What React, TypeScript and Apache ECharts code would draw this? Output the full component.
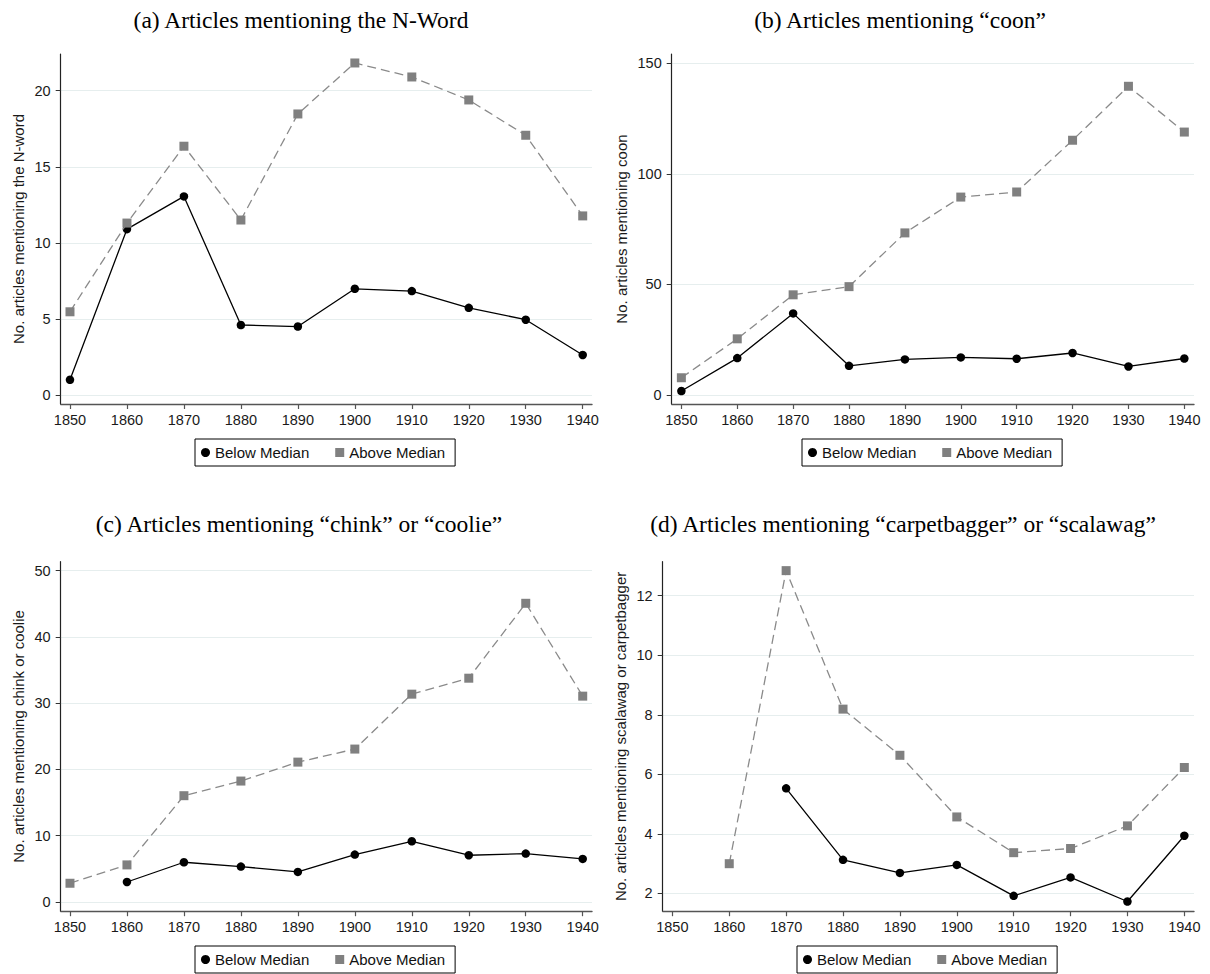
import React, { useEffect, useRef } from "react";
import * as echarts from "echarts";

// ---------- data ----------
const years = [1850, 1860, 1870, 1880, 1890, 1900, 1910, 1920, 1930, 1940];

const nwordBelow = [1.0, 10.9, 13.05, 4.6, 4.5, 6.98, 6.83, 5.73, 4.95, 2.63];
const nwordAbove = [5.47, 11.3, 16.35, 11.5, 18.47, 21.82, 20.9, 19.39, 17.07, 11.77];

const coonBelow = [1.8, 16.7, 36.9, 13.2, 16.1, 17.0, 16.4, 19.0, 12.9, 16.5];
const coonAbove = [7.8, 25.4, 45.3, 49.0, 73.3, 89.5, 91.8, 115.2, 139.6, 118.9];

const chinkBelow = [null, 3.0, 5.98, 5.33, 4.52, 7.14, 9.15, 7.04, 7.29, 6.48];
const chinkAbove = [2.81, 5.58, 16.03, 18.24, 21.1, 23.07, 31.36, 33.77, 45.08, 31.06];

const carpetBelow = [null, null, 5.53, 3.13, 2.69, 2.96, 1.92, 2.54, 1.73, 3.94];
const carpetAbove = [null, 3.0, 12.84, 8.19, 6.64, 4.57, 3.37, 3.51, 4.27, 6.23];

const yTicksA = [0, 5, 10, 15, 20];
const yTicksB = [0, 50, 100, 150];
const yTicksC = [0, 10, 20, 30, 40, 50];
const yTicksD = [2, 4, 6, 8, 10, 12];

const titles = [
  "(a) Articles mentioning the N-Word",
  "(b) Articles mentioning \u201Ccoon\u201D",
  "(c) Articles mentioning \u201Cchink\u201D or \u201Ccoolie\u201D",
  "(d) Articles mentioning \u201Ccarpetbagger\u201D or \u201Cscalawag\u201D",
];
const yNames = [
  "No. articles mentioning the N-word",
  "No. articles mentioning coon",
  "No. articles mentioning chink or coolie",
  "No. articles mentioning scalawag or carpetbagger",
];
const seriesNames = ["Below Median", "Above Median"];

// ---------- layout ----------
const panels = [
  { below: nwordBelow, above: nwordAbove, ticks: yTicksA, ymin: -0.59, ymax: 22.41, xmin: 1848.37, xmax: 1941.63,
    grid: { left: 60.7, top: 54, width: 531.3, height: 350 }, nameGap: 35,
    title: { x: 301, y: 19.5 }, legend: { left: 195, top: 439 } },
  { below: coonBelow, above: coonAbove, ticks: yTicksB, ymin: -4.07, ymax: 154.2, xmin: 1848.27, xmax: 1941.73,
    grid: { left: 671.7, top: 54, width: 522.3, height: 350 }, nameGap: 43,
    title: { x: 900, y: 19.5 }, legend: { left: 802, top: 439 } },
  { below: chinkBelow, above: chinkAbove, ticks: yTicksC, ymin: -1.41, ymax: 51.36, xmin: 1848.37, xmax: 1941.63,
    grid: { left: 60.7, top: 561.7, width: 531.3, height: 349.5 }, nameGap: 35,
    title: { x: 299, y: 523.5 }, legend: { left: 195, top: 946 } },
  { below: carpetBelow, above: carpetAbove, ticks: yTicksD, ymin: 1.405, ymax: 13.14, xmin: 1848.3, xmax: 1941.7,
    grid: { left: 662.7, top: 561.7, width: 531.3, height: 349.5 }, nameGap: 35,
    title: { x: 903, y: 523.5 }, legend: { left: 797, top: 946 } },
];

const SANS = '"Liberation Sans", Arial, Helvetica, sans-serif';
const SERIF = '"Liberation Serif", "Times New Roman", Times, serif';
const GRID_COLOR = "#e6eeee";

function toPairs(vals: (number | null)[]) {
  const out: number[][] = [];
  vals.forEach((v, i) => {
    if (v !== null && v !== undefined) out.push([years[i], v]);
  });
  return out;
}

const plain = (v: number) => String(v);

function buildOption() {
  const grid: any[] = [];
  const xAxis: any[] = [];
  const yAxis: any[] = [];
  const series: any[] = [];
  const legend: any[] = [];
  const graphic: any[] = [];

  panels.forEach((p, i) => {
    grid.push({ ...p.grid, containLabel: false, outerBoundsMode: "none" });
    xAxis.push({
      type: "value",
      gridIndex: i,
      min: p.xmin,
      max: p.xmax,
      axisLine: { show: true, onZero: false, lineStyle: { color: "#555", width: 1.4 } },
      axisTick: { show: true, length: 5, customValues: years, lineStyle: { color: "#555", width: 1.2 } },
      axisLabel: {
        show: true,
        customValues: years,
        formatter: plain,
        margin: 8,
        fontSize: 14.5,
        fontFamily: SANS,
        color: "#1a1a1a",
      },
      splitLine: { show: false },
    });
    yAxis.push({
      type: "value",
      gridIndex: i,
      min: p.ymin,
      max: p.ymax,
      name: yNames[i],
      nameLocation: "middle",
      nameGap: p.nameGap,
      nameTextStyle: { fontSize: 15, fontFamily: SANS, color: "#1a1a1a" },
      axisLine: { show: true, onZero: false, lineStyle: { color: "#222", width: 1.2 } },
      axisTick: { show: true, length: 5, customValues: p.ticks, lineStyle: { color: "#333", width: 1 } },
      axisLabel: {
        show: true,
        customValues: p.ticks,
        formatter: plain,
        margin: 10,
        fontSize: 14.5,
        fontFamily: SANS,
        color: "#1a1a1a",
      },
      splitLine: { show: true, lineStyle: { color: GRID_COLOR, width: 1 } },
    });
    series.push({
      name: seriesNames[0],
      type: "line",
      xAxisIndex: i,
      yAxisIndex: i,
      data: toPairs(p.below),
      symbol: "circle",
      symbolSize: 8.5,
      itemStyle: { color: "#000" },
      lineStyle: { color: "#000", width: 1.3, type: "solid" },
      z: 3,
    });
    series.push({
      name: seriesNames[1],
      type: "line",
      xAxisIndex: i,
      yAxisIndex: i,
      data: toPairs(p.above),
      symbol: "rect",
      symbolSize: 9,
      itemStyle: { color: "#808080" },
      lineStyle: { color: "#8a8a8a", width: 1.3, type: [9, 5] },
      z: 4,
    });
    legend.push({
      left: p.legend.left,
      top: p.legend.top,
      orient: "horizontal",
      selectedMode: false,
      backgroundColor: "#fff",
      borderColor: "#000",
      borderWidth: 1,
      borderRadius: 0,
      padding: [6, 10, 6, 6],
      itemWidth: 9,
      itemHeight: 9,
      itemGap: 26,
      textStyle: { fontSize: 15, fontFamily: SANS, color: "#111" },
      data: [
        { name: seriesNames[0], icon: "circle", itemStyle: { color: "#000" } },
        { name: seriesNames[1], icon: "rect", itemStyle: { color: "#808080" } },
      ],
    });
    graphic.push({
      type: "text",
      x: p.title.x,
      y: p.title.y,
      style: {
        text: titles[i],
        font: `23.5px ${SERIF}`,
        fill: "#000",
        textAlign: "center",
        textVerticalAlign: "middle",
        align: "center",
        verticalAlign: "middle",
      },
    });
  });

  return {
    animation: false,
    backgroundColor: "#fff",
    grid,
    xAxis,
    yAxis,
    series,
    legend,
    graphic,
  };
}

export default function App() {
  const ref = useRef<HTMLDivElement>(null);
  useEffect(() => {
    if (!ref.current) return;
    const chart = echarts.init(ref.current, null, { renderer: "svg", width: 1210, height: 974 });
    chart.setOption(buildOption() as any);
    return () => chart.dispose();
  }, []);
  return (
    <div
      ref={ref}
      style={{ position: "absolute", left: 0, top: 0, width: 1210, height: 974, background: "#fff" }}
    />
  );
}
